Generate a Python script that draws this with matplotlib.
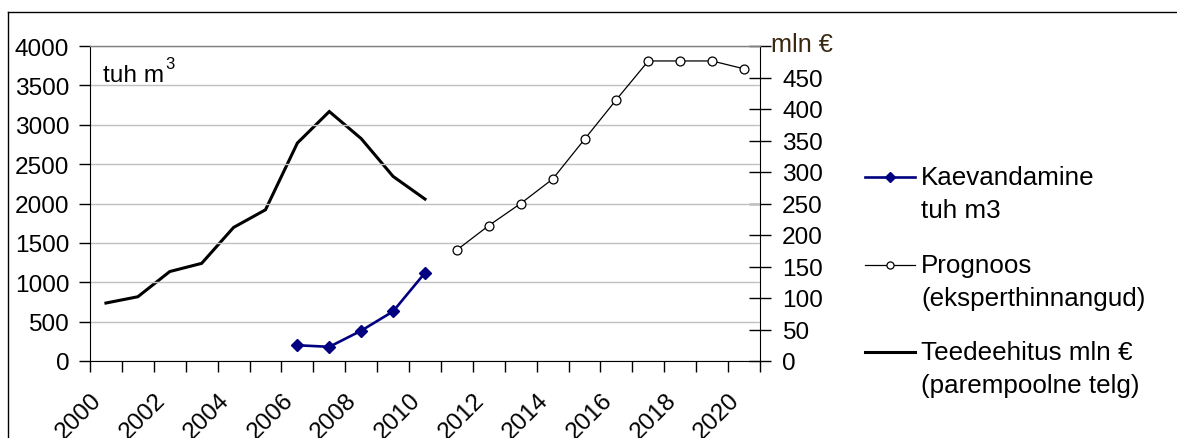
import matplotlib
matplotlib.use("Agg")
import matplotlib.pyplot as plt
from matplotlib.lines import Line2D
import numpy as np

plt.rcParams['font.family'] = ['Liberation Sans', 'DejaVu Sans']

# Years on the category axis
years = list(range(2000, 2021))
year_labels = [str(y) for y in years[::2]]

# Road construction, mln € (right axis), 2000-2010
road_years = list(range(2000, 2011))
road_values = [92, 102, 142, 155, 212, 240, 346, 396, 353, 293, 257]

# Mining, thousand m3 (left axis), 2006-2010
mining_years = list(range(2006, 2011))
mining_values = [200, 180, 385, 630, 1120]

# Expert forecast, thousand m3 (left axis), 2011-2020
forecast_years = list(range(2011, 2021))
forecast_values = [1410, 1720, 2000, 2310, 2815, 3320, 3810, 3810, 3810, 3710]

legend_labels = [
    "Kaevandamine\ntuh m3",
    "Prognoos\n(eksperthinnangud)",
    "Teedeehitus mln €\n(parempoolne telg)",
]

W, H = 1177, 439
fig = plt.figure(figsize=(W / 100, H / 100), dpi=100)

TICK_FS = 17.6
LEG_FS = 18.7

x0, x1, y0, y1 = 90, 760, 47, 362
ax = fig.add_axes([x0 / W, 1 - y1 / H, (x1 - x0) / W, (y1 - y0) / H])
ax2 = ax.twinx()


def xpos(yrs):
    return [y - years[0] for y in yrs]


navy = '#000080'
road_style = dict(color='black', lw=2.2)
mining_style = dict(color=navy, lw=1.9, marker='D', markersize=6.3,
                    markerfacecolor=navy, markeredgecolor=navy)
forecast_style = dict(color='black', lw=0.9, marker='o', markersize=6.4,
                      markerfacecolor='white', markeredgecolor='black',
                      markeredgewidth=0.9)

ax2.plot(xpos(road_years), road_values, solid_joinstyle='miter', zorder=3,
         **road_style)
ax.plot(xpos(mining_years), mining_values, zorder=4, **mining_style)
ax.plot(xpos(forecast_years), forecast_values, zorder=4, **forecast_style)

ax.set_zorder(ax2.get_zorder() + 1)
ax.patch.set_visible(False)

# Left axis
ax.set_ylim(0, 4000)
ax.set_yticks(np.arange(0, 4001, 500))
ax.yaxis.grid(True, color='#c0c0c0', lw=1)
ax.set_axisbelow(True)
ax.tick_params(axis='y', which='major', length=8, width=1,
               labelsize=TICK_FS, pad=7, color='black')

# Right axis
ax2.set_ylim(0, 500)
ticks_r = np.arange(0, 501, 50)
ax2.set_yticks(ticks_r)
ax2.set_yticklabels([str(t) if t < 500 else '' for t in ticks_r])
ax2.tick_params(axis='y', direction='inout', length=16, width=1,
                labelsize=TICK_FS, pad=8)

# Category axis: tick marks between categories, labels every second year
ax.set_xlim(-0.5, len(years) - 0.5)
ax.set_xticks(np.arange(-0.5, len(years), 1.0))
ax.set_xticklabels([])
ax.set_xticks(np.arange(0, len(years), 2), year_labels, minor=True)
ax.tick_params(axis='x', which='major', length=8, width=1, direction='out')
ax.tick_params(axis='x', which='minor', length=0, labelsize=TICK_FS, pad=31)
for lbl in ax.get_xticklabels(minor=True):
    lbl.set_rotation(45)
    lbl.set_ha('right')
    lbl.set_va('bottom')
    lbl.set_rotation_mode('anchor')

for a in (ax, ax2):
    a.spines['top'].set_color('#808080')
    a.spines['top'].set_linewidth(1)
    a.spines['left'].set_color('black')
    a.spines['bottom'].set_color('black')
ax.spines['right'].set_visible(False)
ax2.spines['right'].set_color('black')
ax2.spines['left'].set_visible(False)
ax2.spines['bottom'].set_visible(False)
ax2.spines['top'].set_visible(False)

# Unit labels
unit_left = fig.text(103 / W, 1 - 82 / H, "tuh m", fontsize=TICK_FS,
                     va='baseline')
fig.canvas.draw()
bb = unit_left.get_window_extent()
fig.text((bb.x1 + 1) / W, 1 - 69 / H, "3", fontsize=12, va='baseline')
fig.text(771 / W, 1 - 52 / H, "mln €", fontsize=TICK_FS + 0.6,
         va='baseline', color='#3a2810')

# Legend drawn beside the chart
leg_x0, leg_x1, text_x = 865, 915, 921
row_y = [178, 266, 353]
line_gap = 33
handles = [mining_style, forecast_style, dict(color='black', lw=2.2)]
for label, yc, style in zip(legend_labels, row_y, handles):
    line_only = {k: v for k, v in style.items() if not k.startswith('marker')}
    fig.add_artist(Line2D([leg_x0 / W, leg_x1 / W], [1 - yc / H, 1 - yc / H],
                          transform=fig.transFigure, **line_only))
    if 'marker' in style:
        mk = dict(style)
        mk['linestyle'] = 'none'
        mk['markersize'] = style['markersize'] * 0.8
        fig.add_artist(Line2D([(leg_x0 + leg_x1) / 2 / W], [1 - yc / H],
                              transform=fig.transFigure, **mk))
    for k, part in enumerate(label.split("\n")):
        fig.text(text_x / W, 1 - (yc + k * line_gap) / H, part,
                 fontsize=LEG_FS, va='center')

# Chart area frame
fig.add_artist(Line2D([8 / W, 1], [1 - 13 / H, 1 - 13 / H],
                      transform=fig.transFigure, color='black', lw=1))
fig.add_artist(Line2D([8 / W, 8 / W], [0, 1 - 13 / H],
                      transform=fig.transFigure, color='black', lw=1))

fig.savefig("out.png", dpi=100)
